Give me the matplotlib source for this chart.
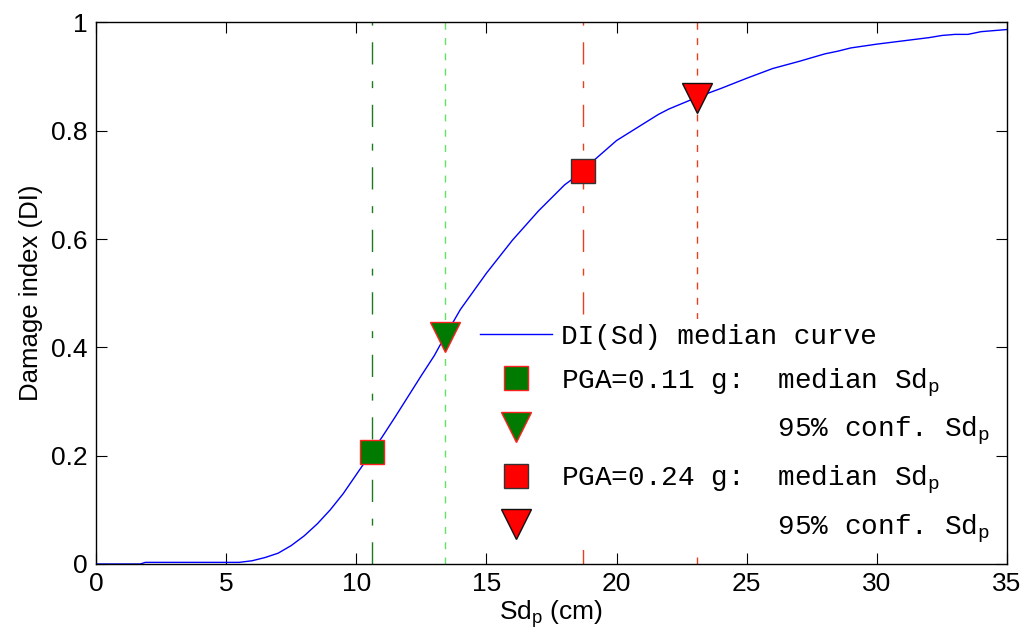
import matplotlib
matplotlib.use('Agg')
import matplotlib.pyplot as plt

plt.rcParams['font.family'] = ['Liberation Sans', 'DejaVu Sans']
plt.rcParams['mathtext.fontset'] = 'custom'
plt.rcParams['mathtext.rm'] = 'Liberation Sans'
plt.rcParams['mathtext.tt'] = 'Liberation Mono'

# DI(Sd) median curve
sd = [0, 1.7, 1.9, 3, 4, 5, 5.5, 6, 6.5, 7, 7.5, 8, 8.5, 9, 9.5, 10, 10.6, 11,
      11.5, 12, 12.5, 13, 13.4, 14, 15, 16, 17, 18, 18.7, 19, 20, 21, 21.6,
      22, 23.1, 24, 25, 26, 27, 28, 28.5, 29, 30, 31, 32, 32.5, 33, 33.5, 34,
      35]
di = [0, 0, 0.003, 0.003, 0.003, 0.003, 0.003, 0.006, 0.012, 0.02, 0.034,
      0.052, 0.074, 0.1, 0.13, 0.165, 0.207, 0.235, 0.272, 0.31, 0.348, 0.385,
      0.42, 0.47, 0.537, 0.598, 0.652, 0.7, 0.725, 0.74, 0.782, 0.812, 0.83,
      0.84, 0.862, 0.878, 0.897, 0.915, 0.928, 0.942, 0.947, 0.953, 0.96,
      0.966, 0.972, 0.976, 0.978, 0.978, 0.983, 0.987]

# median / 95% confidence Sd_p for the two PGA levels
pga1_med = (10.6, 0.207)
pga1_95 = (13.4, 0.42)
pga2_med = (18.7, 0.725)
pga2_95 = (23.1, 0.86)

xticks = [0, 5, 10, 15, 20, 25, 30, 35]
yticks = [0, 0.2, 0.4, 0.6, 0.8, 1]
ytick_labels = ['0', '0.2', '0.4', '0.6', '0.8', '1']

fig = plt.figure(figsize=(10.23, 6.42), dpi=100)
ax = fig.add_axes([0.0938, 0.1215, 0.8906, 0.8435])

# vertical guide lines
ax.plot([pga1_med[0]] * 2, [0, 1], color='#1e7a1e', lw=1, dashes=(16, 12, 5, 12))
ax.plot([pga1_95[0]] * 2, [0, 1], color='#5fe65f', lw=1, dashes=(5, 6))
ax.plot([pga2_med[0]] * 2, [0, 1], color='#e8401c', lw=1, dashes=(16, 12, 5, 12))
ax.plot([pga2_95[0]] * 2, [0, 1], color='#e8401c', lw=1, dashes=(5, 6))

ax.plot(sd, di, color='#0000ff', lw=1, label='DI(Sd) median curve')
ax.plot(*pga1_med, 's', ms=17, mfc='#007a00', mec='#ff2020', mew=1,
        label=r'PGA=0.11 g:  median Sd$_\mathtt{p}$')
ax.plot(*pga1_95, 'v', ms=21, mfc='#007a00', mec='#ff2020', mew=1,
        label=r'             95% conf. Sd$_\mathtt{p}$')
ax.plot(*pga2_med, 's', ms=17, mfc='#ff0000', mec='#333333', mew=1,
        label=r'PGA=0.24 g:  median Sd$_\mathtt{p}$')
ax.plot(*pga2_95, 'v', ms=21, mfc='#ff0000', mec='#111111', mew=1,
        label=r'             95% conf. Sd$_\mathtt{p}$')

ax.set_xlim(0, 35)
ax.set_ylim(0, 1)
ax.set_xticks(xticks)
ax.set_yticks(yticks)
ax.set_yticklabels(ytick_labels)
ax.tick_params(direction='in', top=True, right=True, length=8, width=0.8,
               labelsize=19, pad=6)
for s in ax.spines.values():
    s.set_linewidth(1)
ax.set_xlabel(r'Sd$_\mathrm{p}$ (cm)', fontsize=19, labelpad=1)
ax.set_ylabel('Damage index (DI)', fontsize=18.5, labelpad=6)

leg = ax.legend(loc='lower right', bbox_to_anchor=(0.987, 0.025),
                prop={'family': 'Liberation Mono', 'size': 20},
                frameon=True, facecolor='white', edgecolor='none', framealpha=1,
                numpoints=1, handlelength=2.6, handletextpad=0.3,
                labelspacing=0.58, borderpad=0.2, borderaxespad=0)
leg.get_frame().set_boxstyle('square', pad=0)

fig.savefig('out.png', dpi=100)
